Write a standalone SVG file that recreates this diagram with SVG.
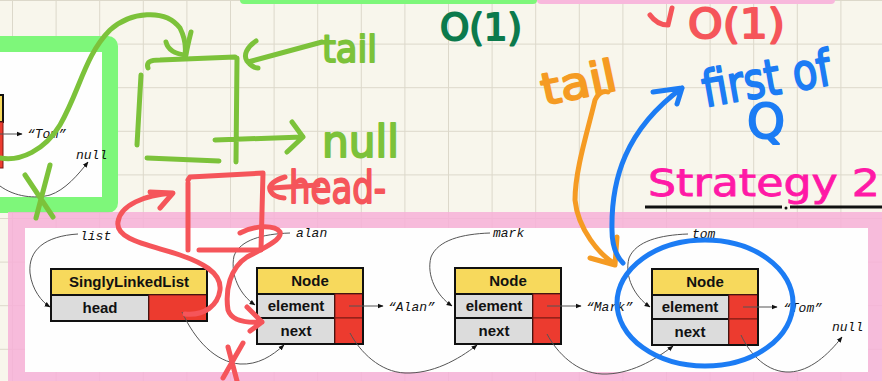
<svg xmlns="http://www.w3.org/2000/svg" width="882" height="381" viewBox="0 0 882 381">
<defs>
<pattern id="grid" width="43.6" height="43.6" patternUnits="userSpaceOnUse" x="12" y="0">
<path d="M0 0H43.6M0 0V43.6" stroke="#dcd8ca" stroke-width="2" fill="none"/>
</pattern>
<marker id="ah" viewBox="0 0 10 10" refX="9" refY="5" markerWidth="6" markerHeight="6" orient="auto">
<path d="M0,1 L10,5 L0,9 Z" fill="#111"/>
</marker>
<style>
.hd{font-family:"Liberation Sans",Arial,sans-serif;font-weight:bold;font-size:15px;fill:#111;text-anchor:middle}
.lb{font-family:"Liberation Mono","DejaVu Sans Mono",monospace;font-style:italic;font-size:13px;fill:#111}
.cv{fill:none;stroke:#555;stroke-width:1;marker-end:url(#ah)}
.yl{fill:#f7d95c;stroke:#111;stroke-width:2}
.gy{fill:#dcdcdc;stroke:#111;stroke-width:2}
.rd{fill:#ec3b2f;stroke:#7a1a14;stroke-width:1}
.pen{fill:none;stroke-linecap:round;stroke-linejoin:round;stroke-width:5}
.g{stroke:#7cc23a}
.r{stroke:#f5555a}
.o{stroke:#f59b23}
.b{stroke:#1c7cf4}
.hw{font-family:"DejaVu Sans",sans-serif;stroke-linejoin:round;stroke-width:2}
</style>
</defs>
<rect width="882" height="381" fill="#f8f6ec"/>
<rect width="882" height="381" fill="url(#grid)"/>
<rect x="240" y="-6" width="297" height="10" rx="4" fill="#7ef77a"/>
<rect x="537" y="-6" width="298" height="10" rx="4" fill="#f8b8dc"/>
<g id="left-box">
<rect x="-20" y="36" width="138" height="177" rx="10" fill="#7ef77a"/>
<rect x="-10" y="52" width="112" height="145" fill="#fefefe"/>
<rect x="-60" y="95" width="63" height="27" class="yl"/>
<rect x="-30" y="122" width="33" height="46" class="rd"/>
<line x1="0" y1="134" x2="22" y2="134" class="cv"/>
<text x="27" y="138" class="lb">“Tom”</text>
<text x="76" y="159" class="lb">null</text>
<path d="M0,186 C15,197 35,199 50,195 C65,190 78,175 88,162" class="cv"/>
</g>
<g id="pink-box">
<rect x="8" y="212" width="890" height="180" fill="#f7b0d8" opacity="0.85"/>
<rect x="25" y="228" width="843" height="144" fill="#fefefe"/>
</g>
<g id="list">
<rect x="51" y="269" width="156" height="26" class="yl"/>
<rect x="51" y="295" width="98" height="26" class="gy"/>
<rect x="149" y="295" width="58" height="26" class="rd"/>
<rect x="51" y="269" width="156" height="52" fill="none" stroke="#111" stroke-width="2"/>
<text x="129" y="287" class="hd">SinglyLinkedList</text>
<text x="100" y="313" class="hd">head</text>
<text x="80" y="240" class="lb">list</text>
</g>
<g id="node-alan">
<rect x="257" y="268" width="106" height="26" class="yl"/>
<rect x="257" y="294" width="78" height="24" class="gy"/>
<rect x="257" y="318" width="78" height="26" class="gy"/>
<rect x="335" y="294" width="28" height="24" class="rd"/>
<rect x="335" y="318" width="28" height="26" class="rd"/>
<rect x="257" y="268" width="106" height="76" fill="none" stroke="#111" stroke-width="2"/>
<text x="310" y="286" class="hd">Node</text>
<text x="296" y="311" class="hd">element</text>
<text x="296" y="336" class="hd">next</text>
<text x="296" y="237" class="lb">alan</text>
<text x="388" y="311" class="lb">“Alan”</text>
</g>
<g id="node-mark">
<rect x="455" y="268" width="106" height="26" class="yl"/>
<rect x="455" y="294" width="78" height="24" class="gy"/>
<rect x="455" y="318" width="78" height="26" class="gy"/>
<rect x="533" y="294" width="28" height="24" class="rd"/>
<rect x="533" y="318" width="28" height="26" class="rd"/>
<rect x="455" y="268" width="106" height="76" fill="none" stroke="#111" stroke-width="2"/>
<text x="508" y="286" class="hd">Node</text>
<text x="494" y="311" class="hd">element</text>
<text x="494" y="336" class="hd">next</text>
<text x="493" y="237" class="lb">mark</text>
<text x="586" y="311" class="lb">“Mark”</text>
</g>
<g id="node-tom">
<rect x="652" y="269" width="106" height="26" class="yl"/>
<rect x="652" y="295" width="77" height="24" class="gy"/>
<rect x="652" y="319" width="77" height="26" class="gy"/>
<rect x="729" y="295" width="29" height="24" class="rd"/>
<rect x="729" y="319" width="29" height="26" class="rd"/>
<rect x="652" y="269" width="106" height="76" fill="none" stroke="#111" stroke-width="2"/>
<text x="705" y="287" class="hd">Node</text>
<text x="690" y="312" class="hd">element</text>
<text x="690" y="337" class="hd">next</text>
<text x="692" y="238" class="lb">tom</text>
<text x="783" y="312" class="lb">“Tom”</text>
<text x="832" y="331" class="lb">null</text>
</g>
<g id="connectors">
<path d="M78,234 C45,236 28,250 30,273 C32,290 42,302 50,307" class="cv"/>
<path d="M290,233 C262,234 240,240 234,256 C230,275 240,295 255,305" class="cv"/>
<path d="M490,233 C462,234 438,240 431,257 C426,276 437,296 452,306" class="cv"/>
<path d="M688,234 C660,235 636,241 629,258 C624,277 635,297 650,307" class="cv"/>
<line x1="349" y1="306" x2="383" y2="306" class="cv"/>
<line x1="547" y1="306" x2="581" y2="306" class="cv"/>
<line x1="743" y1="307" x2="777" y2="307" class="cv"/>
<path d="M182,312 C195,340 215,362 240,364 C258,365 272,356 284,345" class="cv"/>
<path d="M350,333 C360,352 380,372 405,373 C432,374 458,360 477,345" class="cv"/>
<path d="M547,334 C557,353 577,373 602,374 C629,375 655,360 673,346" class="cv"/>
<path d="M741,335 C750,355 768,373 790,372 C810,371 828,355 842,337" class="cv"/>
</g>
<g id="green-ink">
<path class="pen g" d="M0,158 C20,162 45,150 60,125 C80,90 85,55 110,30 C130,12 165,8 180,28 C185,38 186,48 185,55"/>
<path class="pen g" d="M166,42 C168,50 175,54 186,55 M191,32 C189,40 187,48 186,55"/>
<path class="pen g" d="M148,68 C146,62 150,60 160,60 L235,57 M237,58 L236,162 M141,75 L137,145 M147,158 L219,161 M215,140 L303,137 M292,122 L303,137 L287,152"/>
<path class="pen g" d="M322,42 L248,62 M256,41 C247,47 243,55 247,61 C251,66 255,68 258,68"/>
<path class="pen g" d="M50,165 L36,218 M25,175 L53,217"/>
<text x="322" y="62" class="hw" font-size="38" fill="#7cc23a" stroke="#7cc23a" textLength="55" lengthAdjust="spacingAndGlyphs">tail</text>
<text x="322" y="157" class="hw" font-size="44" fill="#7cc23a" stroke="#7cc23a" textLength="77" lengthAdjust="spacingAndGlyphs">null</text>
</g>
<g id="red-ink">
<path class="pen r" d="M188,180 L190,177 L263,173 M188,183 L188,250 M263,173 L261,250 M199,250 L258,250"/>
<path class="pen r" d="M318,185 L272,188 M285,177 C275,180 268,185 270,190 C272,195 278,198 284,198"/>
<path class="pen r" d="M185,314 C205,316 218,305 220,290 C222,272 200,262 180,255 C150,245 115,240 118,222 C120,205 145,195 172,193 M150,192 L173,193 L160,208"/>
<path class="pen r" d="M240,233 C255,225 275,225 280,232 C283,240 260,250 247,257 C230,268 225,290 228,310 C232,322 248,323 262,322 M247,307 L262,322 L250,331"/>
<path class="pen r" d="M228,347 L237,381 M243,343 L223,378"/>
<path class="pen r" d="M650,15 C655,22 662,25 668,25 M672,8 L668,25"/>
<text x="289" y="203" class="hw" font-size="44" fill="#f5555a" stroke="#f5555a" textLength="97" lengthAdjust="spacingAndGlyphs">head-</text>
<text x="688" y="38" class="hw" font-size="40" fill="#f5555a" stroke="#f5555a" textLength="97" lengthAdjust="spacingAndGlyphs">O(1)</text>
</g>
<g id="dark-green-ink">
<text x="440" y="40" class="hw" font-size="38" fill="#0c7a4c" stroke="#0c7a4c" textLength="82" lengthAdjust="spacingAndGlyphs">O(1)</text>
</g>
<g id="orange-ink">
<path class="pen o" d="M608,92 C602,90 598,94 595,100 C588,130 575,170 575,200 C578,230 600,255 615,264 M590,258 L615,265 L617,237"/>
<text x="540" y="98" class="hw" font-size="44" fill="#f59b23" stroke="#f59b23" textLength="76" lengthAdjust="spacingAndGlyphs" transform="rotate(-12 578 80)">tail</text>
</g>
<g id="blue-ink">
<ellipse cx="705" cy="303" rx="88" ry="63" class="pen b"/>
<path class="pen b" d="M623,263 C615,255 612,245 612,230 C611,180 625,130 682,88 M653,92 L682,88 L677,104"/>
<text x="700" y="96" class="hw" font-size="50" fill="#1c7cf4" stroke="#1c7cf4" textLength="130" lengthAdjust="spacingAndGlyphs" transform="rotate(-10 765 70)">first of</text>
<text x="747" y="138" class="hw" font-size="48" fill="#1c7cf4" stroke="#1c7cf4" textLength="38" lengthAdjust="spacingAndGlyphs">Q</text>
</g>
<g id="title">
<text x="648" y="196" font-family="DejaVu Sans,sans-serif" font-size="38" fill="#ff19a6" stroke="#ff19a6" stroke-width="0.8" textLength="232" lengthAdjust="spacingAndGlyphs">Strategy 2</text>
<path d="M645,207 H782 M790,207 H882" stroke="#111" stroke-width="3"/>
<circle cx="786" cy="208" r="1.5" fill="#111"/>
</g>
</svg>
